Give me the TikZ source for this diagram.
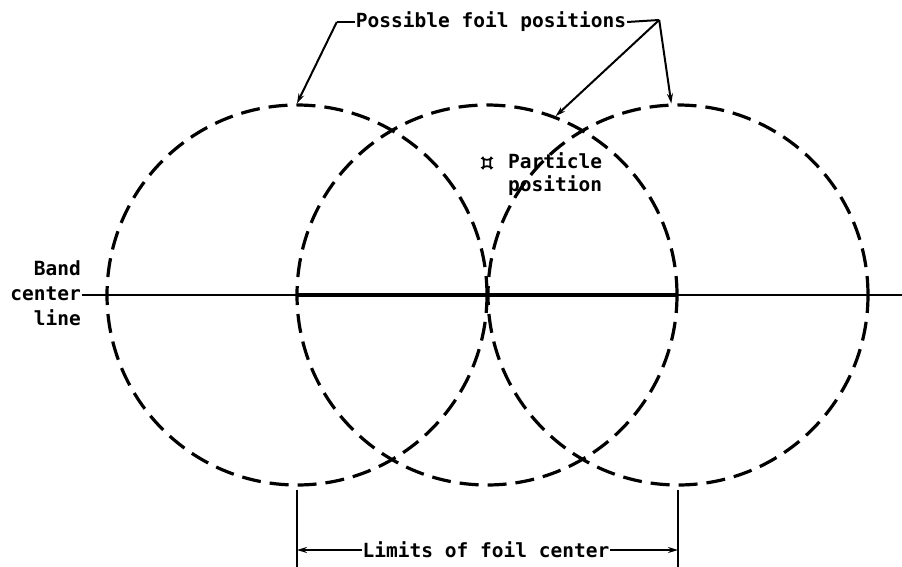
\documentclass[tikz,border=0pt]{standalone}
\usepackage{fontspec}
\setmonofont{DejaVu Sans Mono}
\usetikzlibrary{arrows.meta}
\tikzset{
  foil/.style={circle, draw, minimum size=380pt, inner sep=0pt, line width=3.2pt, dash pattern=on 19pt off 9pt},
  lbl/.style={font=\ttfamily\bfseries\fontsize{19.5}{23}\selectfont, inner sep=1pt},
  leader/.style={line width=2pt},
  tip/.style={-{Stealth[length=10pt,width=6pt]}, line width=2pt},
}
\begin{document}
\begin{tikzpicture}[x=1pt,y=-1pt]
\useasboundingbox (0,0) rectangle (902,567);
% circles
\node[foil] (c1) at (297,295) {};
\node[foil] (c2) at (487,295) {};
\node[foil] (c3) at (678,295) {};
% band center line
\node[lbl, align=right, anchor=east, font=\ttfamily\bfseries\fontsize{19.5}{25}\selectfont] (band) at (82,293) {Band\\center\\line};
\coordinate (bandend) at (902,295);
\draw[line width=2pt] (band.east |- c1.center) -- (bandend);
\draw[line width=4pt] (c1.center) -- (c3.center);
% top label
\node[lbl] (pfp) at (491,22) {Possible foil positions};
\coordinate (pl) at ([xshift=-18pt]pfp.west);
\coordinate (pr) at ([xshift=32pt,yshift=2pt]pfp.east);
\draw[leader] (pfp.west) -- (pl);
\draw[tip] (pl) -- (c1.north);
\draw[leader] (pfp.east) -- (pr);
\draw[tip] (pr) -- (c2.69);
\draw[tip] (pr) -- (c3.92);
% particle
\node[inner sep=0pt, minimum size=9pt] (pm) at (487,163) {};
\draw[line width=1.8pt] (pm.north west) .. controls ([xshift=4pt,yshift=-2pt]pm.north west) and ([xshift=-4pt,yshift=-2pt]pm.north east) .. (pm.north east)
  .. controls ([xshift=-2pt,yshift=4pt]pm.north east) and ([xshift=-2pt,yshift=-4pt]pm.south east) .. (pm.south east)
  .. controls ([xshift=-4pt,yshift=2pt]pm.south east) and ([xshift=4pt,yshift=2pt]pm.south west) .. (pm.south west)
  .. controls ([xshift=2pt,yshift=-4pt]pm.south west) and ([xshift=2pt,yshift=4pt]pm.north west) .. cycle;
\node[lbl, align=left, anchor=west] (ppl) at (507,174) {Particle\\position};
% limits
\coordinate (v1a) at (297,490);
\coordinate (v1b) at (297,567);
\coordinate (v2a) at (678,490);
\coordinate (v2b) at (678,567);
\draw[line width=2pt] (v1a) -- (v1b);
\draw[line width=2pt] (v2a) -- (v2b);
\node[lbl] (lim) at (486,550) {Limits of foil center};
\coordinate (a1) at (297,550);
\coordinate (a2) at (678,550);
\draw[tip] (lim.west) -- (a1);
\draw[tip] (lim.east) -- (a2);
\end{tikzpicture}
\end{document}
